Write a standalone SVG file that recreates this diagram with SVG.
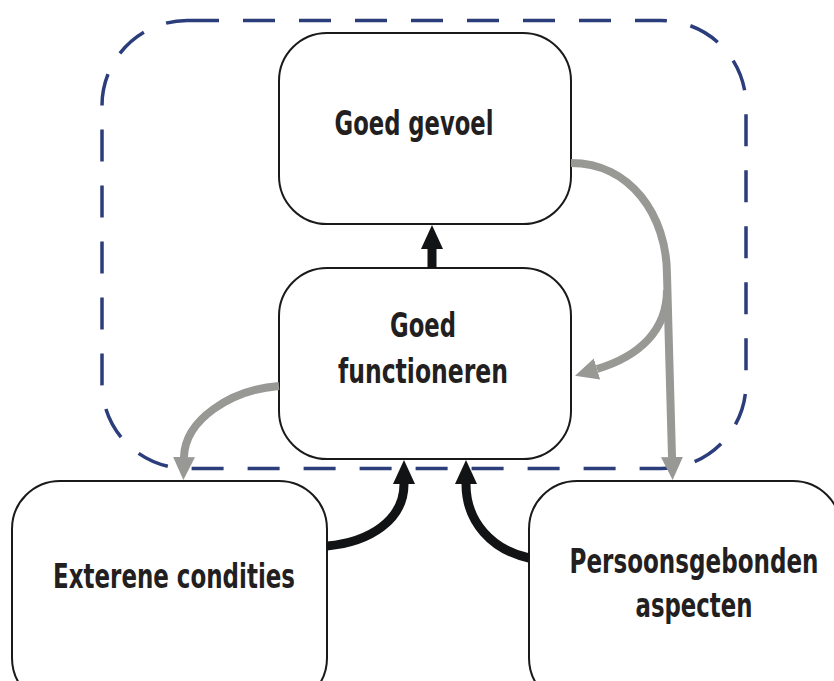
<svg xmlns="http://www.w3.org/2000/svg" width="834" height="681" viewBox="0 0 834 681">
<defs>
<style>
.box{fill:#fff;stroke:#1a1a1a;stroke-width:2}
.lbl{font-family:"Liberation Sans Narrow","Arial Narrow","DejaVu Sans Condensed",sans-serif;font-weight:bold;font-size:33px;fill:#231f20;text-anchor:middle}
.blk{fill:none;stroke:#111315;stroke-width:9}
.gry{fill:none;stroke:#989995;stroke-width:8}
</style>
<marker id="ab" markerUnits="userSpaceOnUse" markerWidth="26" markerHeight="24" refX="0" refY="12" orient="auto" viewBox="0 0 26 24"><path d="M0,1 L24,12 L0,23 Z" fill="#111315"/></marker>
<marker id="ag" markerUnits="userSpaceOnUse" markerWidth="26" markerHeight="24" refX="0" refY="12" orient="auto" viewBox="0 0 26 24"><path d="M0,1 L23,12 L0,23 Z" fill="#989995"/></marker>
</defs>
<rect x="102" y="20.5" width="644" height="448" rx="85" ry="85" fill="none" stroke="#2b3d7a" stroke-width="3.5" stroke-dasharray="32 24"/>
<g id="goed-gevoel"><rect class="box" x="279" y="33" width="292" height="191" rx="48"/><text class="lbl" x="414" y="135" textLength="159" lengthAdjust="spacingAndGlyphs">Goed gevoel</text></g>
<g id="goed-functioneren"><rect class="box" x="279" y="268" width="292" height="191" rx="48"/><text class="lbl" x="423" y="337" textLength="66" lengthAdjust="spacingAndGlyphs">Goed</text><text class="lbl" x="423" y="383" textLength="170" lengthAdjust="spacingAndGlyphs">functioneren</text></g>
<g id="exterene-condities"><rect class="box" x="12" y="481" width="315" height="225" rx="48"/><text class="lbl" x="174" y="588" textLength="242" lengthAdjust="spacingAndGlyphs">Exterene condities</text></g>
<g id="persoonsgebonden-aspecten"><rect class="box" x="529" y="481" width="312" height="225" rx="48"/><text class="lbl" x="694" y="573" textLength="249" lengthAdjust="spacingAndGlyphs">Persoonsgebonden</text><text class="lbl" x="694" y="617" textLength="117" lengthAdjust="spacingAndGlyphs">aspecten</text></g>
<g id="connectors">
<path class="blk" d="M432,268 L432,249" marker-end="url(#ab)"/>
<path class="blk" d="M327,546 C370,542 404,520 404,484" marker-end="url(#ab)"/>
<path class="blk" d="M529,558 C492,550 466,522 466,484" marker-end="url(#ab)"/>
<path class="gry" d="M571,163 C630,163 667,215 667,275 L672,457" marker-end="url(#ag)"/>
<path class="gry" d="M667,290 C667,330 640,356 597,369" marker-end="url(#ag)"/>
<path class="gry" d="M279,386 C230,390 185,420 184,457" marker-end="url(#ag)"/>
</g>
</svg>
